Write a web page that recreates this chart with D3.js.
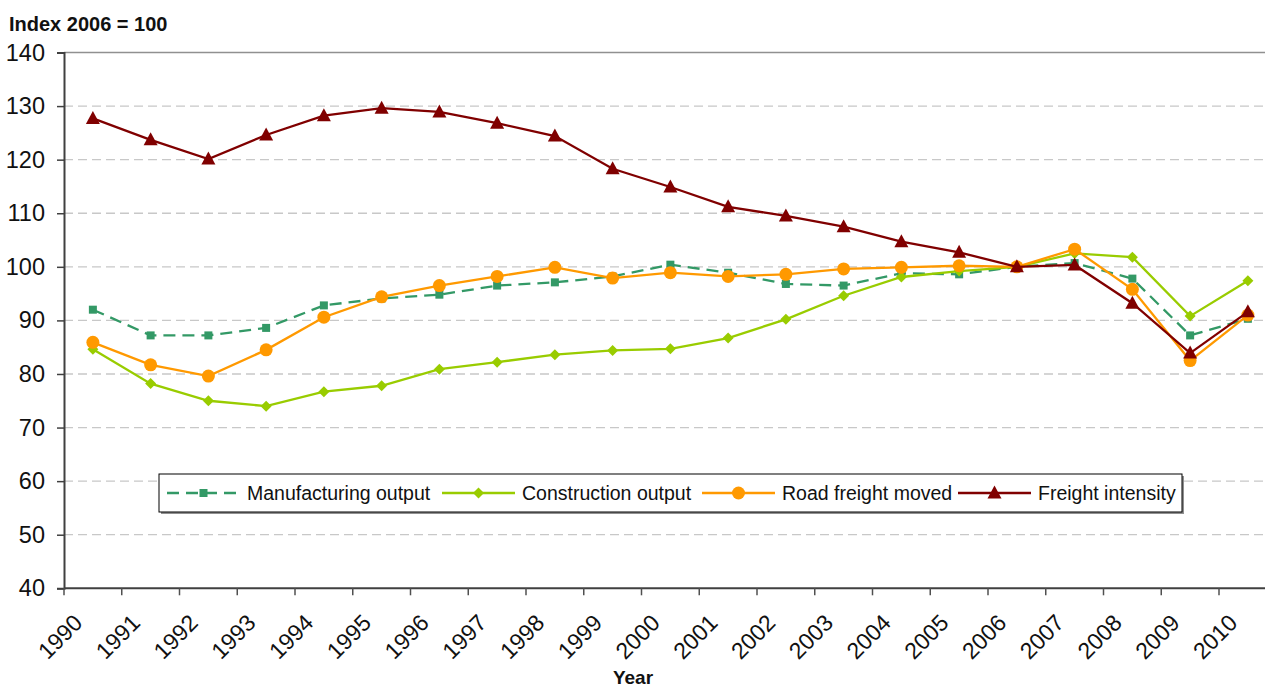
<!DOCTYPE html>
<html>
<head>
<meta charset="utf-8">
<script src="https://cdn.jsdelivr.net/npm/d3@7"></script>
<style>
html,body{margin:0;padding:0;background:#fff;overflow:hidden;}
svg{display:block;font-family:"Liberation Sans",Arial,sans-serif;}
</style>
</head>
<body>
<svg id="chart" width="1265" height="689"></svg>
<script>
const years = ["1990","1991","1992","1993","1994","1995","1996","1997","1998","1999","2000","2001","2002","2003","2004","2005","2006","2007","2008","2009","2010"];
const manufacturing = [92.0, 87.2, 87.2, 88.6, 92.8, 94.1, 94.8, 96.5, 97.1, 98.2, 100.4, 98.9, 96.8, 96.5, 98.8, 98.6, 100, 100.7, 97.8, 87.2, 90.3];
const construction = [84.6, 78.2, 75.0, 74.0, 76.7, 77.8, 80.9, 82.2, 83.6, 84.4, 84.7, 86.7, 90.2, 94.6, 98.1, 99.2, 100, 102.5, 101.8, 90.8, 97.4];
const road = [85.9, 81.7, 79.6, 84.5, 90.6, 94.4, 96.5, 98.2, 99.9, 97.9, 98.9, 98.2, 98.6, 99.6, 99.9, 100.2, 100, 103.3, 95.8, 82.5, 91.0];
const freight = [127.7, 123.7, 120.1, 124.6, 128.2, 129.6, 128.9, 126.8, 124.4, 118.3, 114.9, 111.2, 109.5, 107.5, 104.7, 102.7, 100, 100.35, 93.2, 83.9, 91.6];
const yTicks = [40,50,60,70,80,90,100,110,120,130,140];
const seriesNames = ["Manufacturing output","Construction output","Road freight moved","Freight intensity"];

const series = [
  {name: seriesNames[0], values: manufacturing, color: "#339966", marker: "square", dash: "12,7"},
  {name: seriesNames[1], values: construction, color: "#99CC00", marker: "diamond", dash: null},
  {name: seriesNames[2], values: road, color: "#FF9900", marker: "circle", dash: null},
  {name: seriesNames[3], values: freight, color: "#800000", marker: "triangle", dash: null}
];

const svg = d3.select("#chart");
const left = 64, bandW = 57.75;
const x = d3.scaleBand().domain(years).range([left, left + bandW * years.length]).paddingInner(0).paddingOuter(0);
const y = d3.scaleLinear().domain([40, 140]).range([588.3, 52.5]);
const cx = d => x(d) + x.bandwidth() / 2;

// gridlines
svg.append("g").selectAll("line").data(yTicks.filter(t => t !== 40 && t !== 140)).join("line")
  .attr("x1", left).attr("x2", 1265).attr("y1", d => y(d)).attr("y2", d => y(d))
  .attr("stroke", "#c8c8c8").attr("stroke-width", 1.3).attr("stroke-dasharray", "9,5");
// top border
svg.append("line").attr("x1", left).attr("x2", 1265).attr("y1", y(140)).attr("y2", y(140))
  .attr("stroke", "#909090").attr("stroke-width", 1.5);

// y axis
const yAxis = d3.axisLeft(y).tickValues(yTicks).tickSize(7).tickPadding(12).tickFormat(d3.format("d"));
const gy = svg.append("g").attr("transform", `translate(${left},0)`).call(yAxis);
gy.select(".domain").attr("stroke", "#404040").attr("stroke-width", 2);
gy.selectAll(".tick line").attr("stroke", "#404040").attr("stroke-width", 1.5);
gy.selectAll(".tick text").attr("font-size", 23.5).attr("fill", "#111").attr("font-family", "Liberation Sans, Arial, sans-serif");

// x axis
const gx = svg.append("g").attr("transform", `translate(0,${y(40)})`);
gx.append("line").attr("x1", left).attr("x2", 1265).attr("stroke", "#404040").attr("stroke-width", 2);
gx.selectAll("line.tk").data(years).join("line").attr("class", "tk")
  .attr("x1", d => x(d)).attr("x2", d => x(d)).attr("y1", 0).attr("y2", 7)
  .attr("stroke", "#505050").attr("stroke-width", 1.5);
gx.selectAll("text").data(years).join("text")
  .attr("transform", d => `translate(${cx(d) - 9},${36}) rotate(-45)`)
  .attr("text-anchor", "end").attr("font-size", 23).attr("fill", "#111")
  .text(d => d);

// series
const line = d3.line().x((d, i) => cx(years[i])).y(d => y(d));
function drawMarker(g, type, color) {
  if (type === "square") g.append("rect").attr("x", -4).attr("y", -4).attr("width", 8).attr("height", 8).attr("fill", color);
  else if (type === "diamond") g.append("path").attr("d", "M0,-5.5L5.5,0L0,5.5L-5.5,0Z").attr("fill", color);
  else if (type === "circle") g.append("circle").attr("r", 6.5).attr("fill", color);
  else if (type === "triangle") g.append("path").attr("d", "M0,-7.5L7,5.5L-7,5.5Z").attr("fill", color);
}
series.forEach(s => {
  const g = svg.append("g");
  g.append("path").attr("d", line(s.values)).attr("fill", "none").attr("stroke", s.color)
    .attr("stroke-width", 2.3).attr("stroke-dasharray", s.dash);
  s.values.forEach((v, i) => {
    const m = g.append("g").attr("transform", `translate(${cx(years[i])},${y(v)})`);
    drawMarker(m, s.marker, s.color);
  });
});

// legend (entry start positions are layout constants)
const legendStarts = [167, 442, 702, 958];
const lg = svg.append("g");
const lx0 = 159, ly0 = 474, lh = 38, lw = 1182 - 159;
lg.append("rect").attr("x", lx0 + 2).attr("y", ly0 + 2).attr("width", lw).attr("height", lh).attr("fill", "#909090");
lg.append("rect").attr("x", lx0).attr("y", ly0).attr("width", lw).attr("height", lh).attr("fill", "#fff").attr("stroke", "#000").attr("stroke-width", 1);
const cyL = ly0 + lh / 2;
series.forEach((s, i) => {
  const cur = legendStarts[i];
  const e = lg.append("g");
  e.append("line").attr("x1", cur).attr("x2", cur + 73).attr("y1", cyL).attr("y2", cyL)
    .attr("stroke", s.color).attr("stroke-width", 2.3).attr("stroke-dasharray", s.dash);
  const m = e.append("g").attr("transform", `translate(${cur + 36.5},${cyL})`);
  drawMarker(m, s.marker, s.color);
  e.append("text").attr("x", cur + 80).attr("y", cyL + 7).attr("font-size", 19.5).attr("fill", "#111").text(s.name);
});

// titles
svg.append("text").attr("x", 9).attr("y", 31).attr("font-size", 20).attr("font-weight", "bold").attr("fill", "#111").text("Index 2006 = 100");
svg.append("text").attr("x", 633).attr("y", 684).attr("text-anchor", "middle").attr("font-size", 19).attr("font-weight", "bold").attr("fill", "#111").text("Year");
</script>
</body>
</html>
